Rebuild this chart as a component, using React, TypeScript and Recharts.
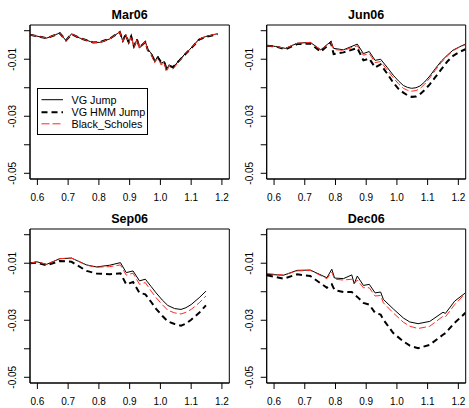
import { LineChart, Line, XAxis, YAxis, ReferenceArea } from "recharts";

const seriesNames = ["VG Jump", "VG HMM Jump", "Black_Scholes"];
const xTicks = [0.6, 0.7, 0.8, 0.9, 1.0, 1.1, 1.2];
const yTicks = [0, -0.01, -0.02, -0.03, -0.04, -0.05];
const yLabelled = [-0.01, -0.03, -0.05];

// Mar06
const marX = [0.576, 0.63, 0.673, 0.693, 0.711, 0.738, 0.781, 0.803, 0.835, 0.868, 0.878, 0.887, 0.897, 0.905, 0.914, 0.924, 0.932, 0.951, 0.959, 0.97, 0.981, 0.992, 1.002, 1.013, 1.019, 1.029, 1.04, 1.062, 1.083, 1.105, 1.126, 1.148, 1.18, 1.186];
const marVG = [-0.0014, -0.0026, -0.0008, -0.0035, -0.0011, -0.0026, -0.0041, -0.0041, -0.0029, -0.0004, -0.0037, -0.0012, -0.0043, -0.0018, -0.0057, -0.0029, -0.0061, -0.0037, -0.0067, -0.0078, -0.0108, -0.009, -0.0114, -0.0108, -0.0137, -0.0119, -0.0131, -0.0102, -0.0078, -0.0055, -0.0029, -0.002, -0.0012, -0.0011];
const marHMM = [-0.0014, -0.0026, -0.0009, -0.0034, -0.0012, -0.0026, -0.0041, -0.004, -0.0028, -0.0005, -0.0035, -0.0014, -0.0041, -0.002, -0.0055, -0.0031, -0.0059, -0.004, -0.0068, -0.0082, -0.0104, -0.0094, -0.011, -0.0112, -0.013, -0.0122, -0.0128, -0.0104, -0.008, -0.0056, -0.0031, -0.0022, -0.0014, -0.0012];
const marBS = [-0.0014, -0.0026, -0.0008, -0.0035, -0.0011, -0.0026, -0.0041, -0.0041, -0.0029, -0.0004, -0.0038, -0.0012, -0.0044, -0.0019, -0.0058, -0.003, -0.0063, -0.0038, -0.007, -0.0082, -0.0113, -0.0095, -0.012, -0.0112, -0.0145, -0.0124, -0.0136, -0.0106, -0.008, -0.0056, -0.0029, -0.002, -0.0012, -0.0011];

// Jun06
const junX = [0.577, 0.604, 0.637, 0.675, 0.718, 0.752, 0.785, 0.794, 0.826, 0.871, 0.891, 0.91, 0.929, 0.947, 0.968, 0.988, 1.005, 1.021, 1.035, 1.048, 1.062, 1.075, 1.09, 1.107, 1.125, 1.145, 1.165, 1.183, 1.203, 1.223];
const junVG = [-0.0053, -0.0055, -0.0062, -0.0044, -0.0041, -0.0067, -0.0038, -0.0062, -0.0067, -0.0047, -0.008, -0.0073, -0.0104, -0.01, -0.0128, -0.0156, -0.0176, -0.0192, -0.0199, -0.0202, -0.02, -0.0194, -0.018, -0.0159, -0.0133, -0.0106, -0.0085, -0.0068, -0.0057, -0.0047];
const junHMM = [-0.0053, -0.0055, -0.0065, -0.0047, -0.0045, -0.0074, -0.0041, -0.0082, -0.0076, -0.0061, -0.0104, -0.0098, -0.0129, -0.0118, -0.015, -0.0182, -0.0204, -0.0217, -0.0227, -0.0232, -0.0231, -0.0223, -0.0208, -0.0188, -0.0163, -0.0135, -0.0107, -0.0088, -0.0075, -0.0065];
const junBS = [-0.0053, -0.0055, -0.0062, -0.0044, -0.0041, -0.0067, -0.004, -0.0066, -0.0069, -0.0053, -0.0086, -0.008, -0.0112, -0.0108, -0.0137, -0.0165, -0.0186, -0.0202, -0.0209, -0.0212, -0.021, -0.0203, -0.0188, -0.0166, -0.0139, -0.0111, -0.0088, -0.007, -0.0058, -0.0049];

// Sep06
const sepX = [0.576, 0.598, 0.63, 0.673, 0.711, 0.76, 0.792, 0.835, 0.87, 0.889, 0.911, 0.932, 0.951, 0.97, 0.986, 1.006, 1.024, 1.046, 1.067, 1.083, 1.1, 1.126, 1.148];
const sepVG = [-0.01, -0.0095, -0.0104, -0.0084, -0.0082, -0.0106, -0.0113, -0.0107, -0.0098, -0.0133, -0.0127, -0.0162, -0.0156, -0.0182, -0.0204, -0.0229, -0.0248, -0.0259, -0.0262, -0.0256, -0.0245, -0.0221, -0.0198];
const sepHMM = [-0.01, -0.0098, -0.0107, -0.0092, -0.0095, -0.0127, -0.0136, -0.0139, -0.0135, -0.0174, -0.0166, -0.0204, -0.0209, -0.0236, -0.026, -0.0284, -0.0304, -0.0313, -0.0319, -0.0312, -0.0298, -0.0274, -0.0248];
const sepBS = [-0.01, -0.0095, -0.0104, -0.0084, -0.0082, -0.0107, -0.0114, -0.0112, -0.0106, -0.0142, -0.0135, -0.0174, -0.0168, -0.0198, -0.0221, -0.0245, -0.0265, -0.0274, -0.0278, -0.0272, -0.0262, -0.0239, -0.0215];

// Dec06
const decX = [0.577, 0.631, 0.675, 0.718, 0.772, 0.788, 0.797, 0.826, 0.853, 0.861, 0.871, 0.891, 0.91, 0.929, 0.947, 0.956, 0.988, 1.021, 1.042, 1.069, 1.107, 1.15, 1.158, 1.188, 1.223];
const decVG = [-0.0139, -0.0142, -0.0125, -0.0124, -0.0151, -0.0121, -0.0152, -0.0154, -0.0141, -0.0172, -0.0145, -0.0178, -0.0174, -0.0204, -0.0201, -0.0227, -0.026, -0.0292, -0.0306, -0.0312, -0.0304, -0.0272, -0.0276, -0.0233, -0.0204];
const decHMM = [-0.0142, -0.0154, -0.0139, -0.0145, -0.0186, -0.0174, -0.0194, -0.0201, -0.0201, -0.0209, -0.0218, -0.0239, -0.0245, -0.0274, -0.028, -0.0298, -0.0345, -0.0374, -0.0389, -0.0398, -0.0386, -0.0351, -0.0345, -0.0309, -0.0274];
const decBS = [-0.0136, -0.0142, -0.0127, -0.0125, -0.0154, -0.0131, -0.0156, -0.0159, -0.0156, -0.0172, -0.0159, -0.0186, -0.0186, -0.0215, -0.0213, -0.0239, -0.0274, -0.0307, -0.0321, -0.0329, -0.0321, -0.0286, -0.0288, -0.0245, -0.0206];

const X_DOMAIN: [number, number] = [0.576, 1.224];
const Y_DOMAIN: [number, number] = [-0.052, 0.002];
const FONT = '"Liberation Sans", Arial, Helvetica, sans-serif';
const RED = "#ff2a1a";

const toRows = (xs: number[], vg: number[], hmm: number[], bs: number[]) =>
  xs.map((x, i) => ({ x, vg: vg[i], hmm: hmm[i], bs: bs[i] }));

const YTick = (props: any) => {
  const { x, y, payload } = props;
  const v = payload.value;
  const label = yLabelled.some((t) => Math.abs(t - v) < 1e-9) ? v.toFixed(2) : "";
  const bx = x - 7.5;
  return (
    <text
      x={bx}
      y={y}
      transform={`rotate(-90 ${bx} ${y})`}
      textAnchor="middle"
      fontSize={10}
      fontFamily={FONT}
      fill="#000"
    >
      {label}
    </text>
  );
};

interface PanelProps {
  title: string;
  rows: any[];
  left: number;
  top: number;
  width: number;
  axisW: number;
  rightM: number;
}

function Panel({ title, rows, left, top, width, axisW, rightM }: PanelProps) {
  const plotW = width - axisW - rightM;
  return (
    <div style={{ position: "absolute", left, top, width, height: 204 }}>
      <div
        style={{
          position: "absolute",
          left: axisW,
          width: plotW,
          top: 8,
          textAlign: "center",
          fontFamily: FONT,
          fontWeight: "bold",
          fontSize: 12.5,
          lineHeight: "14px",
        }}
      >
        {title}
      </div>
      <LineChart
        width={width}
        height={204}
        data={rows}
        margin={{ top: 25, right: rightM, left: 0, bottom: 0 }}
      >
        <XAxis
          dataKey="x"
          type="number"
          domain={X_DOMAIN}
          ticks={xTicks}
          allowDataOverflow
          height={25}
          tickSize={6}
          tickMargin={9}
          tickFormatter={(v: number) => v.toFixed(1)}
          tick={{ fontSize: 10, fontFamily: FONT, fill: "#000" }}
          tickLine={{ stroke: "#000" }}
          axisLine={{ stroke: "#000" }}
        />
        <YAxis
          type="number"
          domain={Y_DOMAIN}
          ticks={yTicks}
          allowDataOverflow
          width={axisW}
          tickSize={6}
          tickMargin={0}
          tick={<YTick />}
          tickLine={{ stroke: "#000" }}
          axisLine={{ stroke: "#000" }}
        />
        <Line dataKey="vg" name={seriesNames[0]} stroke="#000" strokeWidth={1} dot={false} isAnimationActive={false} />
        <Line dataKey="hmm" name={seriesNames[1]} stroke="#000" strokeWidth={2} strokeDasharray="6 4" dot={false} isAnimationActive={false} />
        <Line dataKey="bs" name={seriesNames[2]} stroke={RED} strokeWidth={1} strokeDasharray="7 3" dot={false} isAnimationActive={false} />
        <ReferenceArea
          x1={X_DOMAIN[0]}
          x2={X_DOMAIN[1]}
          y1={Y_DOMAIN[0]}
          y2={Y_DOMAIN[1]}
          fill="none"
          stroke="#000"
          strokeWidth={1}
        />
      </LineChart>
    </div>
  );
}

function LegendBox() {
  const rowsY = [11.7, 24.2, 35.8];
  const styles = [
    { stroke: "#000", w: 1, dash: undefined },
    { stroke: "#000", w: 2, dash: "6 4" },
    { stroke: RED, w: 1, dash: "8 3" },
  ];
  return (
    <svg
      width={111}
      height={47}
      style={{ position: "absolute", left: 37, top: 88, background: "#fff" }}
    >
      <rect x={0.5} y={0.5} width={110} height={46} fill="#fff" stroke="#000" />
      {seriesNames.map((n, i) => (
        <g key={n}>
          <line
            x1={4.5}
            x2={26}
            y1={rowsY[i]}
            y2={rowsY[i]}
            stroke={styles[i].stroke}
            strokeWidth={styles[i].w}
            strokeDasharray={styles[i].dash}
          />
          <text x={34.5} y={rowsY[i] + 3.8} fontSize={10.8} fontFamily={FONT} fill="#000">
            {n}
          </text>
        </g>
      ))}
    </svg>
  );
}

export default function App() {
  return (
    <div
      style={{
        position: "absolute",
        left: 0,
        top: 0,
        width: 469,
        height: 408,
        background: "#fff",
        overflow: "hidden",
      }}
    >
      <Panel title="Mar06" rows={toRows(marX, marVG, marHMM, marBS)} left={0} top={0} width={234} axisW={30} rightM={4.7} />
      <Panel title="Jun06" rows={toRows(junX, junVG, junHMM, junBS)} left={234} top={0} width={235} axisW={32.7} rightM={3.3} />
      <Panel title="Sep06" rows={toRows(sepX, sepVG, sepHMM, sepBS)} left={0} top={204} width={234} axisW={30} rightM={4.7} />
      <Panel title="Dec06" rows={toRows(decX, decVG, decHMM, decBS)} left={234} top={204} width={235} axisW={32.7} rightM={3.3} />
      <LegendBox />
    </div>
  );
}
